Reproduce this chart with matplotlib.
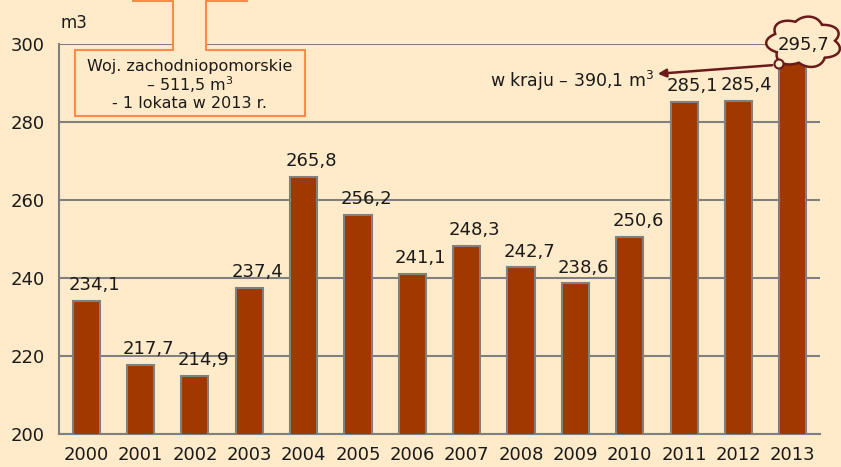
import numpy as np
import matplotlib
matplotlib.use("Agg")
import matplotlib.pyplot as plt
from matplotlib.patches import Polygon, Circle, FancyArrowPatch

years = ["2000", "2001", "2002", "2003", "2004", "2005", "2006",
         "2007", "2008", "2009", "2010", "2011", "2012", "2013"]
values = [234.1, 217.7, 214.9, 237.4, 265.8, 256.2, 241.1,
          248.3, 242.7, 238.6, 250.6, 285.1, 285.4, 295.7]
yticks = [200, 220, 240, 260, 280, 300]

BG = "#FFEBC9"
BAR = "#A03800"
GRID = "#808080"
ORANGE = "#FF8A4A"
DARKRED = "#6B1A1A"
plt.rcParams['font.family'] = ['DejaVu Sans']

W, H = 841, 467
fig = plt.figure(figsize=(W / 100, H / 100), dpi=100)
fig.patch.set_facecolor(BG)
ax = fig.add_axes([59 / W, 1 - 434 / H, (820 - 59) / W, (434 - 44) / H])
ax.set_facecolor(BG)
x = np.arange(len(years))
ax.bar(x, values, width=0.5, color=BAR, edgecolor=GRID, linewidth=1.5, zorder=3)
ax.set_xlim(-0.5, len(years) - 0.5)
ax.set_ylim(200, 300)
ax.set_yticks(yticks)
ax.set_yticklabels([str(t) for t in yticks], fontsize=13)
ax.set_xticks(x)
ax.set_xticklabels(years, fontsize=13)
ax.tick_params(axis="y", length=0, pad=10, colors="#1a1a1a")
ax.tick_params(axis="x", length=0, pad=9, colors="#1a1a1a")
ax.yaxis.grid(True, color=GRID, linewidth=1.5, zorder=0)
ax.set_axisbelow(True)
for s in ["top", "right"]:
    ax.spines[s].set_visible(False)
for s in ["left", "bottom"]:
    ax.spines[s].set_color(GRID)
    ax.spines[s].set_linewidth(1.5)

for xi, v in zip(x, values):
    if xi == len(years) - 1:
        continue
    ax.annotate(f"{v:.1f}".replace(".", ","), (xi + 0.15, v), xytext=(0, 5),
                textcoords="offset points", ha="center", va="bottom",
                fontsize=13, color="#1a1a1a", zorder=5)

ax.text(-0.48, 303, "m3", fontsize=12, color="#1a1a1a", va="bottom", clip_on=False)

# overlay in pixel coordinates
ov = fig.add_axes([0, 0, 1, 1], zorder=10)
ov.set_xlim(0, W)
ov.set_ylim(H, 0)
ov.axis("off")
ov.patch.set_alpha(0)

# callout box (upward arrow callout base)
pts = [(75, 50), (173, 50), (173, 1), (133, 1), (133, -5), (247, -5), (247, 1),
       (206, 1), (206, 50), (305, 50), (305, 116), (75, 116)]
ov.add_patch(Polygon(pts, closed=True, facecolor=BG, edgecolor=ORANGE, linewidth=1.5))
ov.text(190, 67, "Woj. zachodniopomorskie", ha="center", va="center", fontsize=11.5, color="#1a1a1a")
ov.text(190, 85, "– 511,5 m$^3$", ha="center", va="center", fontsize=11.5, color="#1a1a1a")
ov.text(190, 103, "- 1 lokata w 2013 r.", ha="center", va="center", fontsize=11.5, color="#1a1a1a")

# cloud
cx, cy, a, b = 804, 42, 31, 21
th = np.linspace(0, 2 * np.pi, 1200)
r = 1 + 0.22 * np.abs(np.sin(3.5 * th + 0.2))
cxs = cx + a * r * np.cos(th)
cys = cy + b * r * np.sin(th)
ov.add_patch(Polygon(np.column_stack([cxs, cys]), closed=True, facecolor=BG,
                     edgecolor=DARKRED, linewidth=1.8))
ov.add_patch(Circle((779, 64), 4.5, facecolor=BG, edgecolor=DARKRED, linewidth=1.5))
ov.text(cx, cy + 3, f"{values[-1]:.1f}".replace(".", ","), ha="center", va="center",
        fontsize=13, color="#1a1a1a")

ov.add_patch(FancyArrowPatch((775, 65), (655, 74), arrowstyle="-|>", mutation_scale=12,
                             color=DARKRED, linewidth=1.8))
ov.text(490, 81, "w kraju – 390,1 m$^3$", ha="left", va="center", fontsize=12.5, color="#1a1a1a")

fig.savefig("out.png", dpi=100, facecolor=BG)
